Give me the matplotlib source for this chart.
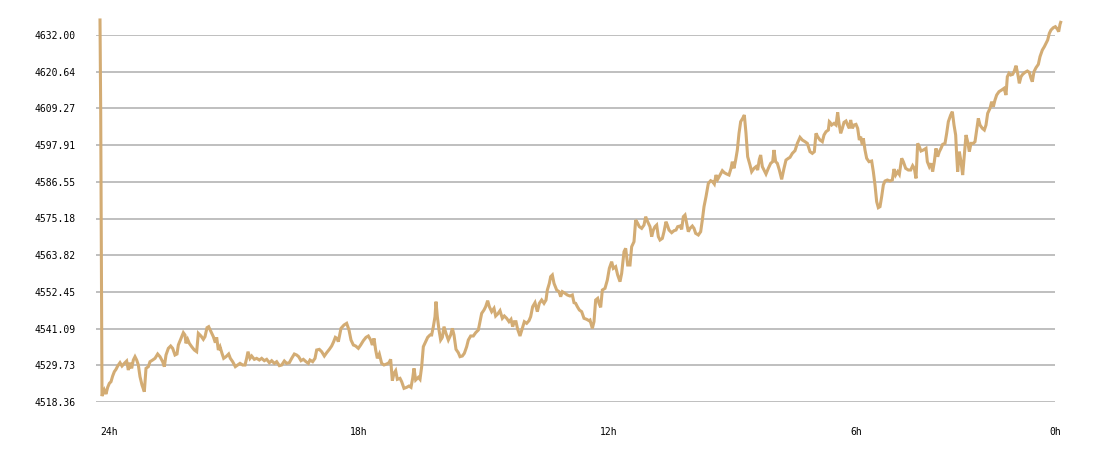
import matplotlib
matplotlib.use("Agg")
import matplotlib.pyplot as plt

# hours before now
hours = [
    24.000, 23.983, 23.964, 23.952, 23.896, 23.856, 23.816, 23.776, 23.736, 23.696,
    23.656, 23.616, 23.576, 23.520, 23.472, 23.416, 23.360, 23.320, 23.280, 23.240,
    23.200, 23.160, 23.120, 23.080, 23.040, 22.992, 22.936, 22.896, 22.840, 22.800,
    22.736, 22.680, 22.616, 22.560, 22.496, 22.456, 22.416, 22.360, 22.304, 22.256,
    22.200, 22.152, 22.120, 22.056, 22.000, 21.960, 21.936, 21.896, 21.856, 21.800,
    21.736, 21.680, 21.640, 21.576, 21.520, 21.480, 21.432, 21.392, 21.336, 21.280,
    21.232, 21.200, 21.160, 21.120, 21.072, 21.032, 20.976, 20.912, 20.872, 20.816,
    20.752, 20.696, 20.640, 20.576, 20.520, 20.480, 20.448, 20.400, 20.360, 20.296,
    20.240, 20.176, 20.120, 20.056, 20.000, 19.936, 19.880, 19.816, 19.760, 19.696,
    19.640, 19.576, 19.520, 19.456, 19.400, 19.336, 19.280, 19.232, 19.176, 19.120,
    19.056, 19.000, 18.960, 18.896, 18.840, 18.800, 18.736, 18.680, 18.616, 18.560,
    18.496, 18.440, 18.392, 18.352, 18.312, 18.280, 18.216,
    18.144, 18.080, 18.024, 17.976, 17.920, 17.864, 17.800, 17.744, 17.680, 17.616,
    17.560, 17.504, 17.464, 17.424, 17.384, 17.344, 17.296, 17.240, 17.184, 17.120,
    17.064, 17.024, 16.984, 16.944, 16.904, 16.864, 16.800, 16.760, 16.704, 16.640,
    16.584, 16.536, 16.496, 16.464, 16.424, 16.360, 16.320, 16.280, 16.240, 16.184,
    16.136, 16.080, 16.040, 16.000, 15.960, 15.936, 15.904, 15.864, 15.824, 15.784,
    15.744, 15.696, 15.640, 15.584, 15.544, 15.504, 15.456, 15.400, 15.360, 15.304,
    15.256, 15.200, 15.160, 15.104, 15.040, 14.984, 14.920, 14.880, 14.840, 14.784,
    14.744, 14.696, 14.656, 14.600, 14.544, 14.504, 14.456, 14.400, 14.344, 14.296,
    14.240, 14.184, 14.136, 14.096, 14.056, 14.016, 13.976, 13.920, 13.864, 13.816,
    13.760, 13.704, 13.664, 13.616, 13.560, 13.504, 13.456, 13.400, 13.344, 13.296,
    13.264, 13.216, 13.184, 13.144, 13.104, 13.040, 12.984, 12.944, 12.904, 12.840,
    12.784, 12.720, 12.664, 12.624, 12.584, 12.544, 12.496, 12.440, 12.384, 12.320,
    12.264,
    12.240, 12.184, 12.144, 12.104, 12.056, 12.024, 11.984, 11.944, 11.880, 11.824,
    11.776, 11.720, 11.680, 11.624, 11.576, 11.520, 11.480, 11.424, 11.384, 11.336,
    11.280, 11.240, 11.184, 11.144, 11.104, 11.056, 11.000, 10.944, 10.904, 10.856,
    10.800, 10.760, 10.720, 10.680, 10.640, 10.600, 10.560, 10.504, 10.464, 10.416,
    10.384, 10.344, 10.280, 10.224, 10.176, 10.136, 10.080, 10.040, 10.000, 9.960,
    9.920, 9.880, 9.840, 9.784, 9.744, 9.704, 9.640, 9.584, 9.544, 9.504,
    9.456, 9.400, 9.344, 9.296, 9.256, 9.216, 9.176, 9.120, 9.064, 9.016,
    8.960, 8.904, 8.856, 8.824, 8.784, 8.744, 8.704, 8.664, 8.624, 8.576,
    8.536, 8.496, 8.456, 8.400, 8.360, 8.304, 8.256, 8.216, 8.176, 8.144,
    8.104, 8.064, 8.016, 7.960, 7.904, 7.856, 7.824, 7.784, 7.744, 7.696,
    7.640, 7.584, 7.536, 7.480, 7.440, 7.384, 7.320, 7.264, 7.200, 7.144,
    7.080, 7.024, 6.960, 6.904, 6.856, 6.816, 6.776, 6.720, 6.664, 6.624,
    6.576, 6.520, 6.496,
    6.480, 6.440, 6.384, 6.336, 6.296, 6.264, 6.224, 6.184, 6.144, 6.096,
    6.056, 6.016, 5.984, 5.944, 5.904, 5.856, 5.816, 5.776, 5.744, 5.704,
    5.680, 5.640, 5.600, 5.544, 5.480, 5.440, 5.400, 5.360, 5.320, 5.280,
    5.240, 5.200, 5.160, 5.104, 5.040, 4.984, 4.944, 4.904, 4.856, 4.816,
    4.760, 4.720, 4.664, 4.600, 4.544, 4.496, 4.456, 4.416, 4.376, 4.336,
    4.296, 4.240, 4.176, 4.144, 4.096, 4.056, 4.016, 3.976, 3.936, 3.896,
    3.856, 3.816, 3.776, 3.720, 3.680, 3.640, 3.584, 3.544, 3.504, 3.464,
    3.440, 3.416, 3.376, 3.336, 3.296, 3.256, 3.216, 3.176, 3.136, 3.096,
    3.040, 3.000, 2.960, 2.920, 2.880, 2.824, 2.776, 2.736, 2.696, 2.640,
    2.600, 2.560, 2.520, 2.480, 2.424, 2.360, 2.304, 2.256, 2.224, 2.184,
    2.144, 2.096, 2.056, 2.016, 1.976, 1.936, 1.896, 1.856, 1.800, 1.744,
    1.696, 1.656, 1.624, 1.584, 1.536, 1.480, 1.440, 1.384, 1.336, 1.296,
    1.256, 1.216, 1.176, 1.120, 1.072, 1.024, 0.992, 0.960, 0.944,
]

price = [
    4636.65, 4607.85, 4549.33, 4520.21, 4522.07, 4520.83, 4522.90, 4524.13, 4524.65, 4526.41,
    4527.75, 4528.47, 4529.50, 4530.53, 4529.50, 4530.33, 4531.05, 4528.26, 4530.53, 4528.78,
    4531.36, 4532.39, 4531.36, 4529.81, 4526.20, 4523.62, 4521.55, 4528.78, 4529.30, 4530.84,
    4531.36, 4531.88, 4533.22, 4532.39, 4530.84, 4529.30, 4532.91, 4534.97, 4535.70, 4534.97,
    4532.91, 4533.22, 4536.01, 4538.07, 4539.82, 4539.10, 4536.52, 4537.76, 4536.52, 4535.49,
    4534.46, 4533.94, 4539.62, 4538.79, 4537.76, 4538.59, 4541.37, 4541.68, 4540.13, 4538.59,
    4536.73, 4538.38, 4534.46, 4535.49, 4533.42, 4531.88, 4532.39, 4533.22, 4531.88, 4530.84,
    4529.30, 4529.81, 4530.33, 4529.81, 4529.81, 4531.88, 4533.94, 4531.88, 4532.60, 4531.57,
    4531.88, 4531.36, 4531.88, 4531.15, 4531.57, 4530.53, 4531.15, 4530.33, 4530.84, 4529.61,
    4529.81, 4531.05, 4530.33, 4530.53, 4531.88, 4533.22, 4532.91, 4532.39, 4531.15, 4531.57,
    4530.84, 4530.33, 4531.36, 4530.84, 4531.88, 4534.46, 4534.66, 4533.94, 4532.60, 4533.63,
    4534.66, 4535.70, 4537.04, 4538.38, 4538.07, 4537.04, 4541.17,
    4542.20, 4542.72, 4540.65, 4537.56, 4536.01, 4535.70, 4534.98, 4536.01, 4537.35, 4538.38,
    4538.80, 4537.56, 4536.01, 4538.07, 4534.46, 4531.88, 4533.22, 4530.33, 4529.82, 4530.13,
    4530.54, 4531.57, 4524.96, 4527.24, 4528.06, 4525.38, 4525.69, 4524.65, 4522.59, 4522.90,
    4523.31, 4522.90, 4525.69, 4528.78, 4525.17, 4526.00, 4525.38, 4529.30, 4535.49, 4537.04,
    4538.38, 4539.11, 4539.11, 4541.69, 4544.78, 4549.43, 4544.78, 4540.65, 4537.56, 4538.38,
    4541.69, 4539.62, 4537.56, 4539.11, 4541.17, 4539.11, 4534.67, 4533.63, 4532.40, 4532.60,
    4533.43, 4535.49, 4537.56, 4538.80, 4538.80, 4539.83, 4540.65, 4543.23, 4545.81, 4546.85,
    4547.88, 4549.74, 4547.88, 4546.33, 4547.36, 4544.99, 4545.61, 4546.64, 4544.27, 4544.99,
    4544.27, 4543.23, 4543.96, 4541.69, 4543.23, 4543.23, 4540.86, 4538.80, 4541.17, 4543.23,
    4542.72, 4543.54, 4544.78, 4547.88, 4549.12, 4546.33, 4548.91, 4549.94, 4548.91, 4549.94,
    4553.04, 4555.10, 4557.17, 4557.69, 4555.10, 4553.04, 4552.52, 4550.98, 4552.52, 4552.01,
    4551.49, 4551.18, 4551.49, 4549.12, 4548.91, 4547.88, 4546.85, 4546.33, 4544.27, 4543.96,
    4543.54,
    4543.74, 4541.16, 4543.23, 4549.94, 4550.45, 4548.91, 4547.67, 4553.03, 4553.55, 4556.13,
    4559.74, 4561.81, 4559.74, 4560.26, 4557.68, 4555.62, 4558.20, 4564.90, 4565.94, 4560.78,
    4560.78, 4566.45, 4568.00, 4574.71, 4573.89, 4572.65, 4572.13, 4573.16, 4575.74, 4574.19,
    4572.65, 4569.55, 4571.61, 4572.65, 4573.16, 4569.55, 4568.52, 4569.03, 4571.10, 4574.19,
    4573.16, 4571.61, 4570.79, 4571.41, 4571.61, 4572.65, 4572.85, 4571.82, 4575.74, 4576.26,
    4573.68, 4571.10, 4572.13, 4572.85, 4572.13, 4570.58, 4570.07, 4571.10, 4574.71, 4578.84,
    4581.94, 4586.06, 4586.89, 4586.58, 4585.86, 4588.65, 4587.30, 4588.65, 4589.99, 4589.37,
    4588.96, 4588.65, 4590.71, 4592.77, 4590.71, 4593.29, 4596.39, 4601.55, 4605.16, 4606.19,
    4607.23, 4601.55, 4594.32, 4591.74, 4589.68, 4590.71, 4591.23, 4590.19, 4593.50, 4594.84,
    4591.23, 4590.19, 4588.96, 4590.71, 4592.26, 4592.77, 4596.39, 4592.77, 4592.26, 4590.19,
    4587.30, 4590.71, 4593.29, 4593.81, 4594.12, 4595.35, 4596.18, 4598.45, 4600.31, 4599.48,
    4598.97, 4598.45, 4595.87, 4595.35, 4595.87, 4601.55, 4600.52, 4599.48, 4598.97, 4601.03,
    4602.06, 4602.58, 4605.16,
    4604.95, 4604.13, 4604.64, 4604.13, 4608.05, 4604.64, 4601.55, 4603.10, 4604.95, 4605.37,
    4604.13, 4603.10, 4605.68, 4603.10, 4604.13, 4604.33, 4603.10, 4599.48, 4600.51, 4597.93,
    4600.00, 4596.39, 4593.81, 4592.77, 4592.98, 4589.68, 4585.55, 4580.39, 4578.53, 4578.84,
    4581.94, 4585.55, 4586.79, 4587.10, 4586.79, 4587.10, 4590.50, 4588.64, 4589.68, 4588.85,
    4593.81, 4592.77, 4590.71, 4590.19, 4590.19, 4591.53, 4590.71, 4587.61, 4598.45, 4597.42,
    4596.08, 4596.39, 4596.90, 4592.77, 4591.22, 4592.26, 4589.68, 4592.77, 4596.90, 4594.32,
    4595.87, 4596.90, 4598.14, 4598.45, 4601.55, 4605.16, 4607.22, 4608.26, 4604.13, 4601.03,
    4594.84, 4589.68, 4595.87, 4592.77, 4588.64, 4594.84, 4601.03, 4598.97, 4595.87, 4598.45,
    4598.45, 4598.97, 4602.58, 4606.19, 4604.13, 4603.10, 4602.58, 4604.13, 4607.74, 4609.29,
    4611.35, 4609.80, 4611.87, 4613.42, 4614.45, 4614.97, 4615.48, 4613.42, 4619.09, 4620.13,
    4619.61, 4619.82, 4620.85, 4622.50, 4620.13, 4617.03, 4619.09, 4619.82, 4620.44, 4620.85,
    4620.44, 4618.58, 4617.55, 4620.64, 4621.88, 4622.91, 4625.29, 4627.35, 4628.38, 4629.42,
    4630.45, 4632.51, 4633.55, 4634.27, 4634.58, 4633.85, 4633.03, 4635.30, 4635.92,
]

y_ticks = [4518.36, 4529.73, 4541.09, 4552.45, 4563.82, 4575.18, 4586.55, 4597.91, 4609.27, 4620.64, 4632.00]
x_ticks = [24, 18, 12, 6]
x_labels = ["24h", "18h", "12h", "6h"]

line_color = "#d3ac74"
grid_color = "#c0c0c0"

fig = plt.figure(figsize=(11, 4.58), dpi=100)
ax = fig.add_axes([96 / 1100, 1 - 402 / 458, 959 / 1100, 367 / 458])

# crisp 2px grid lines, like the original bitmap chart
for v in y_ticks:
    ax.axhline(v, color=grid_color, lw=1.44, zorder=1, antialiased=False)

ax.plot(hours, price, color=line_color, lw=2.2, zorder=3, clip_on=False,
        solid_joinstyle="miter")

ax.set_xlim(24.096, 1.08)
ax.set_ylim(y_ticks[0], y_ticks[-1])

for s in ax.spines.values():
    s.set_visible(False)

ax.set_yticks(y_ticks)
ax.set_yticklabels([f"{v:.2f}" for v in y_ticks], family="DejaVu Sans Mono", fontsize=7)
ax.tick_params(axis="y", length=0, pad=14.5)
ax.set_xticks([])

# x labels sit below the axis, left-aligned at each tick; "0h" ends at the last sample
for t, lab in zip(x_ticks, x_labels):
    ax.text(t, -0.083, lab, transform=ax.get_xaxis_transform(), ha="left", va="center",
            family="DejaVu Sans Mono", fontsize=7)
ax.text(hours[-1], -0.083, "0h", transform=ax.get_xaxis_transform(), ha="right", va="center",
        family="DejaVu Sans Mono", fontsize=7)

fig.savefig("out.png", dpi=100, facecolor="white")
